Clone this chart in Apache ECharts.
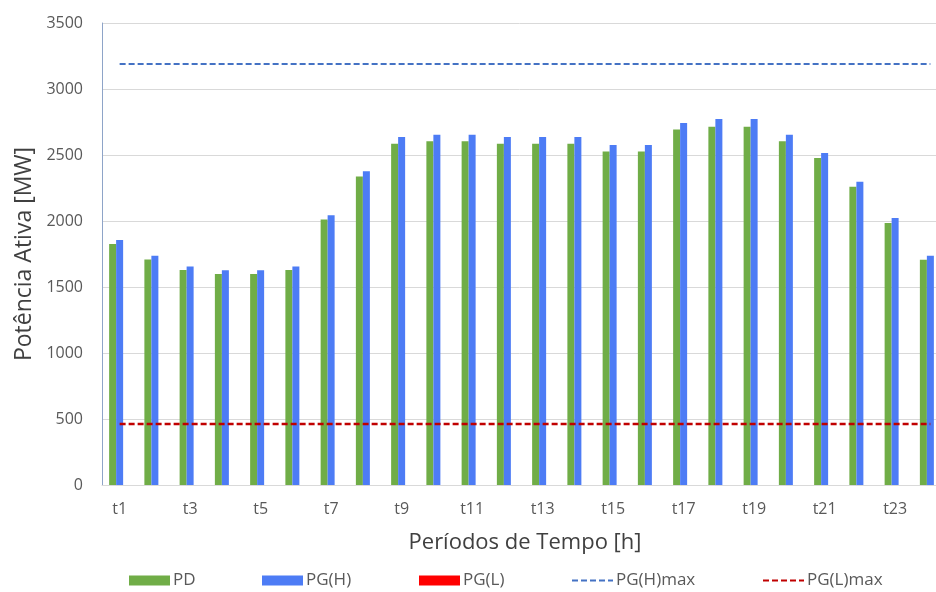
<!DOCTYPE html>
<html>
<head>
<meta charset="utf-8">
<script src="https://cdn.jsdelivr.net/npm/echarts@6/dist/echarts.min.js"></script>
<style>
  html, body { margin: 0; padding: 0; background: #fff; }
  #chart { width: 936px; height: 592px; }
</style>
</head>
<body>
<div id="chart"></div>
<script>
// Hourly periods
const periods = ['t1','t2','t3','t4','t5','t6','t7','t8','t9','t10','t11','t12',
                 't13','t14','t15','t16','t17','t18','t19','t20','t21','t22','t23','t24'];

// Demand (PD) and generation per group [MW]
const pd  = [1825,1709,1628,1598,1598,1628,2012,2338,2585,2605,2605,2585,
             2585,2585,2527,2527,2694,2714,2714,2605,2477,2260,1985,1707];
const pgH = [1856,1737,1656,1626,1626,1656,2043,2376,2636,2653,2653,2636,
             2636,2636,2575,2575,2742,2772,2772,2653,2515,2297,2023,1737];
const pgL = [0,0,0,0,0,0,0,0,0,0,0,0,
             0,0,0,0,0,0,0,0,0,0,0,0];

// Generation limits [MW]
const pgHmax = [3190,3190,3190,3190,3190,3190,3190,3190,3190,3190,3190,3190,
                3190,3190,3190,3190,3190,3190,3190,3190,3190,3190,3190,3190];
const pgLmax = [463,463,463,463,463,463,463,463,463,463,463,463,
                463,463,463,463,463,463,463,463,463,463,463,463];

// Value axis ticks
const yMin = 0, yMax = 3500, yStep = 500;

// Legend entries
const legendNames = ['PD', 'PG(H)', 'PG(L)', 'PG(H)max', 'PG(L)max'];

const FONT = '"Open Sans", sans-serif';

// One legend block per entry so each sits at its own spot along the bottom
const legendLeft = [129, 262, 419, 571, 762];
const legends = legendNames.map((name, i) => ({
  left: legendLeft[i],
  top: 572,
  itemWidth: 41,
  itemHeight: 10,
  itemGap: 0,
  padding: 0,
  textStyle: { fontFamily: FONT, fontSize: 17, color: '#595959', padding: [0, 0, 0, -2] },
  data: [ i < 3 ? { name: name, icon: 'rect' }
                : { name: name, itemStyle: { opacity: 0 } } ]
}));

const chart = echarts.init(document.getElementById('chart'), null, { renderer: 'canvas' });

chart.setOption({
  animation: false,
  backgroundColor: '#ffffff',
  textStyle: { fontFamily: FONT },
  // the plot runs slightly past the right edge of the canvas
  grid: { left: 102, width: 846, top: 23, bottom: 107, containLabel: false,
          outerBoundsMode: 'none' },
  legend: legends,
  xAxis: {
    type: 'category',
    data: periods,
    name: 'Períodos de Tempo [h]',
    nameLocation: 'middle',
    nameGap: 47,
    nameTextStyle: { fontFamily: FONT, fontSize: 22, color: '#404040' },
    axisLine: { show: true, lineStyle: { color: '#d9d9d9', width: 1 } },
    axisTick: { show: false },
    axisLabel: { interval: 1, margin: 16, fontFamily: FONT, fontSize: 16, color: '#595959' }
  },
  yAxis: {
    type: 'value',
    min: yMin,
    max: yMax,
    interval: yStep,
    name: 'Potência Ativa [MW]',
    nameLocation: 'middle',
    nameGap: 66,
    nameTextStyle: { fontFamily: FONT, fontSize: 23, color: '#404040' },
    axisLine: { show: true, lineStyle: { color: '#8ea4c8', width: 1 } },
    axisTick: { show: false },
    axisLabel: { margin: 19, fontFamily: FONT, fontSize: 16, color: '#595959',
                 formatter: v => String(v) },
    splitLine: { show: true, lineStyle: { color: '#d9d9d9', width: 1 } }
  },
  series: [
    { name: 'PD', type: 'bar', data: pd, barWidth: 7, barGap: '0%',
      itemStyle: { color: '#70ad47' } },
    { name: 'PG(H)', type: 'bar', data: pgH, barWidth: 7, barGap: '0%',
      itemStyle: { color: '#4d7cf5' } },
    { name: 'PG(L)', type: 'bar', data: pgL, barWidth: 7, barGap: '0%',
      itemStyle: { color: '#ff0000' } },
    { name: 'PG(H)max', type: 'line', data: pgHmax, symbol: 'none',
      itemStyle: { color: '#4472c4' },
      lineStyle: { color: '#4472c4', width: 2, type: [6, 3] } },
    { name: 'PG(L)max', type: 'line', data: pgLmax, symbol: 'none',
      itemStyle: { color: '#c00000' },
      lineStyle: { color: '#c00000', width: 2.5, type: [6, 3] } }
  ]
});
</script>
</body>
</html>
